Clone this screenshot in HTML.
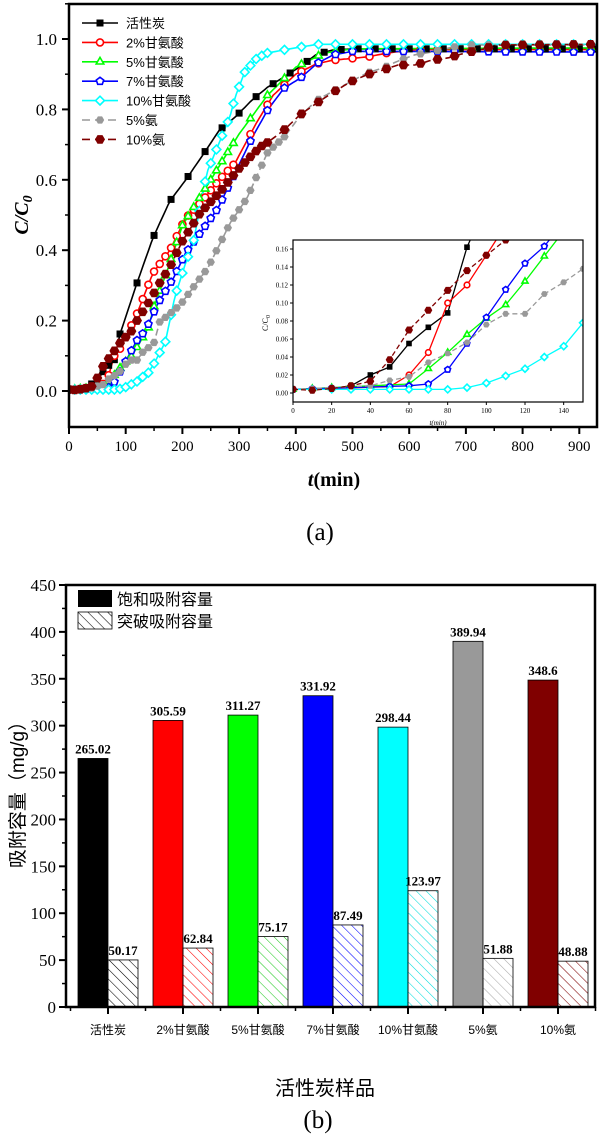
<!DOCTYPE html>
<html><head><meta charset="utf-8">
<style>
html,body{margin:0;padding:0;background:#fff;}
svg{display:block;}
.s{font-family:"Liberation Serif",serif;}
.c{font-family:"Liberation Sans","Noto Sans CJK SC",sans-serif;}
</style></head>
<body>
<svg id="g" width="600" height="1138" viewBox="0 0 600 1138" xmlns="http://www.w3.org/2000/svg">
<defs>
<clipPath id="cm"><rect x="69" y="4" width="528" height="423"/></clipPath>
<clipPath id="ci"><rect x="293" y="240" width="290" height="162"/></clipPath>
</defs>
<rect width="600" height="1138" fill="#fff"/>
<g id="gtop"></g>
<g id="gbot"></g>
</svg>
<script>
(function(){
var NS="http://www.w3.org/2000/svg";
function el(p,t,a,txt){var e=document.createElementNS(NS,t);for(var k in a)e.setAttribute(k,a[k]);if(txt!==undefined)e.textContent=txt;p.appendChild(e);return e;}
var gtop=document.getElementById('gtop'),gbot=document.getElementById('gbot');
function interp(pts,t){if(t<=pts[0][0])return pts[0][1];for(var i=1;i<pts.length;i++){if(t<=pts[i][0]){var a=pts[i-1],b=pts[i];return a[1]+(b[1]-a[1])*(t-a[0])/(b[0]-a[0]);}}return pts[pts.length-1][1];}
function marker(p,type,x,y,col,s){
 var fill=(type=='sq'||type=='hex')?col:'#fff';var sw=1.6;
 if(type=='sq')el(p,'rect',{x:x-s,y:y-s,width:2*s,height:2*s,fill:col});
 else if(type=='ci')el(p,'circle',{cx:x,cy:y,r:s,fill:'#fff',stroke:col,'stroke-width':sw});
 else{var n,r=s,off;
  if(type=='tri'){n=3;off=-90;r=s*1.25;}else if(type=='pent'){n=5;off=-90;r=s*1.1;}else if(type=='dia'){n=4;off=-90;r=s*1.25;}else{n=6;off=0;}
  var pp=[];for(var i=0;i<n;i++){var a=(off+i*360/n)*Math.PI/180;pp.push((x+r*Math.cos(a)).toFixed(1)+','+(y+r*Math.sin(a)).toFixed(1));}
  el(p,'polygon',{points:pp.join(' '),fill:fill,stroke:type=='hex'?'none':col,'stroke-width':sw});}
}
var S=[
 {col:'#000',m:'sq',s:3.5,dash:null,dense:90,name:'活性炭',pts:[[0,.004],[20,.005],[30,.008],[40,.02],[50,.029],[60,.055],[70,.073],[80,.089],[90,.162],[120,.307],[148,.435],[178,.54],[206,.6],[235,.668],[265,.741],[293,.778],[323,.827],[351,.864],[379,.892],[409,.923],[437,.957],[466,.969],[500,.972],[940,.972]]},
 {col:'#f00',m:'ci',s:3.5,dash:null,dense:290,name:'2%甘氨酸',pts:[[0,.004],[50,.007],[60,.02],[70,.045],[80,.1],[90,.12],[100,.153],[120,.22],[148,.335],[178,.4],[205,.49],[235,.54],[265,.6],[293,.648],[330,.76],[360,.84],[400,.9],[437,.93],[466,.94],[500,.945],[530,.95],[560,.96],[590,.966],[620,.97],[940,.97]]},
 {col:'#0f0',m:'tri',s:3.5,dash:null,dense:290,name:'5%甘氨酸',pts:[[0,.004],[60,.01],[70,.027],[80,.045],[90,.065],[100,.083],[110,.098],[120,.124],[130,.152],[140,.18],[150,.24],[175,.35],[200,.47],[250,.6],[300,.73],[350,.84],[400,.92],[450,.96],[500,.972],[940,.975]]},
 {col:'#00f',m:'pent',s:3.5,dash:null,dense:290,name:'7%甘氨酸',pts:[[0,.004],[60,.008],[70,.01],[80,.026],[90,.055],[100,.084],[111,.118],[120,.144],[130,.163],[140,.19],[157,.25],[184,.32],[205,.39],[235,.457],[263,.52],[293,.62],[323,.72],[351,.8],[379,.86],[409,.89],[437,.93],[466,.955],[500,.965],[940,.963]]},
 {col:'#0ff',m:'dia',s:3.5,dash:null,dense:350,name:'10%甘氨酸',pts:[[0,.004],[80,.004],[90,.006],[100,.011],[110,.019],[120,.027],[130,.04],[140,.052],[150,.078],[170,.14],[187,.27],[205,.36],[219,.42],[243,.62],[261,.69],[284,.78],[293,.835],[310,.906],[331,.945],[349,.96],[379,.969],[407,.977],[440,.985],[940,.985]]},
 {col:'#999',m:'hex',s:4.2,dash:'7,4',dense:380,name:'5%氨',pts:[[0,.004],[40,.008],[50,.014],[60,.018],[70,.034],[80,.044],[90,.056],[100,.076],[110,.088],[120,.088],[130,.11],[140,.123],[150,.138],[160,.196],[196,.244],[225,.307],[245,.35],[272,.437],[284,.477],[314,.548],[331,.61],[351,.68],[379,.72],[407,.78],[437,.826],[466,.852],[496,.878],[525,.903],[554,.918],[584,.94],[610,.955],[640,.963],[668,.974],[698,.983],[940,.983]]},
 {col:'#800000',m:'hex',s:5,dash:'7,4',dense:350,name:'10%氨',pts:[[0,.004],[10,.003],[20,.005],[30,.008],[40,.013],[50,.037],[60,.07],[70,.092],[80,.114],[90,.136],[100,.153],[110,.17],[120,.2],[140,.25],[160,.307],[178,.352],[199,.423],[231,.505],[266,.565],[302,.636],[337,.693],[351,.707],[379,.741],[407,.784],[437,.818],[466,.849],[496,.878],[525,.898],[554,.912],[580,.926],[610,.926],[640,.94],[668,.946],[698,.96],[725,.969],[755,.983],[940,.985]]}
];
function X(t){return 69+0.567*t;} function Y(c){return 391-352*c;}
var gm=el(gtop,'g',{'clip-path':'url(#cm)'});
S.forEach(function(s){
 var d=[];for(var t=0;t<=940;t+=5)d.push(X(t).toFixed(1)+','+Y(interp(s.pts,t)).toFixed(1));
 var a={points:d.join(' '),fill:'none',stroke:s.col,'stroke-width':1.6};if(s.dash)a['stroke-dasharray']=s.dash;
 el(gm,'polyline',a);
});
S.forEach(function(s){
 var ts=[];for(var t=0;t<=s.dense;t+=10)ts.push(t);var last=ts[ts.length-1];for(var t=last+30;t<=935;t+=30)ts.push(t);
 ts.forEach(function(t){marker(gm,s.m,X(t),Y(interp(s.pts,t)),s.col,s.s);});
});
el(gtop,'rect',{x:69,y:4,width:528,height:423,fill:'none',stroke:'#000','stroke-width':2.5});
for(var t=0;t<=900;t+=100){el(gtop,'line',{x1:X(t),y1:427,x2:X(t),y2:434,stroke:'#000','stroke-width':2});
 el(gtop,'text',{x:X(t),y:451,'text-anchor':'middle','font-size':15,class:'s'},t);}
for(var t=50;t<=900;t+=100)el(gtop,'line',{x1:X(t),y1:427,x2:X(t),y2:431,stroke:'#000','stroke-width':1.5});
for(var i=0;i<=5;i++){var c=i*0.2;el(gtop,'line',{x1:62,y1:Y(c),x2:69,y2:Y(c),stroke:'#000','stroke-width':2});
 el(gtop,'text',{x:57,y:Y(c)+6,'text-anchor':'end','font-size':17,class:'s'},c.toFixed(1));}
for(var i=0;i<6;i++){var c=0.1+i*0.2;el(gtop,'line',{x1:65,y1:Y(c),x2:69,y2:Y(c),stroke:'#000','stroke-width':1.5});}
var yl=el(gtop,'text',{transform:'translate(28,215) rotate(-90)','text-anchor':'middle','font-size':20,'font-weight':'bold','font-style':'italic',class:'s'});
el(yl,'tspan',{},'C/C');el(yl,'tspan',{'font-size':14,dy:4},'0');
var xl=el(gtop,'text',{x:334,y:486,'text-anchor':'middle','font-size':20,'font-weight':'bold',class:'s'});
el(xl,'tspan',{'font-style':'italic'},'t');el(xl,'tspan',{},'(min)');
el(gtop,'text',{x:320,y:540,'text-anchor':'middle','font-size':25,class:'s'},'(a)');
S.forEach(function(s,i){var y=23+19.4*i;var a={x1:82,y1:y,x2:118,y2:y,stroke:s.col,'stroke-width':1.6};if(s.dash)a['stroke-dasharray']='8,5';
 el(gtop,'line',a);marker(gtop,s.m,100,y,s.col,s.s);
 el(gtop,'text',{x:126,y:y+5,'font-size':13,class:'c'},s.name);});
function XI(t){return 293+290*t/150;} function YI(c){return 393-900*c;}
el(gtop,'rect',{x:293,y:240,width:290,height:162,fill:'#fff'});
var gi=el(gtop,'g',{'clip-path':'url(#ci)'});
S.forEach(function(s){var d=[],ts=[];for(var t=0;t<=150;t+=10)ts.push(t);
 ts.forEach(function(t){d.push(XI(t).toFixed(1)+','+YI(interp(s.pts,t)).toFixed(1));});
 var a={points:d.join(' '),fill:'none',stroke:s.col,'stroke-width':1.3};if(s.dash)a['stroke-dasharray']='5,3';
 el(gi,'polyline',a);
 ts.forEach(function(t){marker(gi,s.m,XI(t),YI(interp(s.pts,t)),s.col,s.s*0.8);});});
el(gtop,'rect',{x:293,y:240,width:290,height:162,fill:'none',stroke:'#000','stroke-width':1.2});
for(var t=0;t<=140;t+=20){el(gtop,'line',{x1:XI(t),y1:402,x2:XI(t),y2:405,stroke:'#000','stroke-width':1});
 el(gtop,'text',{x:XI(t),y:413,'text-anchor':'middle','font-size':7,class:'s'},t);}
for(var i=0;i<=8;i++){var c=i*0.02;el(gtop,'line',{x1:290,y1:YI(c),x2:293,y2:YI(c),stroke:'#000','stroke-width':1});
 el(gtop,'text',{x:288,y:YI(c)+2.5,'text-anchor':'end','font-size':7,class:'s'},c.toFixed(2));}
var il=el(gtop,'text',{transform:'translate(268,323) rotate(-90)','text-anchor':'middle','font-size':8,class:'s'});
el(il,'tspan',{},'C/C');el(il,'tspan',{'font-size':6,dy:2},'0');
el(gtop,'text',{x:438,y:425,'text-anchor':'middle','font-size':7,'font-style':'italic',class:'s'},'t(min)');
function YB(v){return 1007-0.9378*v;}
var defs=document.querySelector('defs');
var cols=['#000','#f00','#0f0','#00f','#0ff','#999','#800000'];
var names=['活性炭','2%甘氨酸','5%甘氨酸','7%甘氨酸','10%甘氨酸','5%氨','10%氨'];
var sat=[265.02,305.59,311.27,331.92,298.44,389.94,348.6];
var brk=[50.17,62.84,75.17,87.49,123.97,51.88,48.88];
var hcol=['#000','#f00','#2c2','#00f','#0dd','#aaa','#800000'];
hcol.forEach(function(c,i){var p=el(defs,'pattern',{id:'h'+i,patternUnits:'userSpaceOnUse',width:7,height:7,patternTransform:'rotate(-45)'});
 el(p,'line',{x1:0,y1:0,x2:0,y2:7,stroke:c,'stroke-width':1.1});});
for(var i=0;i<7;i++){var cx=108+75*i;
 el(gbot,'rect',{x:cx-30,y:YB(sat[i]),width:30,height:1007-YB(sat[i]),fill:cols[i],stroke:'#000','stroke-width':0.8});
 el(gbot,'rect',{x:cx,y:YB(brk[i]),width:30,height:1007-YB(brk[i]),fill:'url(#h'+i+')',stroke:'#000','stroke-width':0.8});
 el(gbot,'text',{x:cx-15,y:YB(sat[i])-5,'text-anchor':'middle','font-size':13,'font-weight':'bold',class:'s'},String(sat[i]));
 el(gbot,'text',{x:cx+15,y:YB(brk[i])-5,'text-anchor':'middle','font-size':13,'font-weight':'bold',class:'s'},String(brk[i]));
 el(gbot,'line',{x1:cx,y1:1007,x2:cx,y2:1014,stroke:'#000','stroke-width':2});
 el(gbot,'line',{x1:cx+37.5,y1:1007,x2:cx+37.5,y2:1011,stroke:'#000','stroke-width':1.5});
 el(gbot,'text',{x:cx,y:1034,'text-anchor':'middle','font-size':12,class:'c'},names[i]);}
el(gbot,'line',{x1:70.5,y1:1007,x2:70.5,y2:1011,stroke:'#000','stroke-width':1.5});
el(gbot,'rect',{x:66,y:585,width:529,height:422,fill:'none',stroke:'#000','stroke-width':2.5});
for(var v=0;v<=450;v+=50){el(gbot,'line',{x1:59,y1:YB(v),x2:66,y2:YB(v),stroke:'#000','stroke-width':2});
 el(gbot,'text',{x:56,y:YB(v)+6,'text-anchor':'end','font-size':17,class:'s'},v);}
for(var v=25;v<450;v+=50)el(gbot,'line',{x1:62,y1:YB(v),x2:66,y2:YB(v),stroke:'#000','stroke-width':1.5});
el(gbot,'text',{transform:'translate(24,790) rotate(-90)','text-anchor':'middle','font-size':19,class:'c'},'吸附容量（mg/g）');
el(gbot,'text',{x:325,y:1095,'text-anchor':'middle','font-size':20,class:'c'},'活性炭样品');
el(gbot,'text',{x:318,y:1128,'text-anchor':'middle','font-size':25,class:'s'},'(b)');
el(gbot,'rect',{x:78,y:590,width:34,height:17,fill:'#000'});
el(gbot,'text',{x:117,y:605,'font-size':16,class:'c'},'饱和吸附容量');
el(gbot,'rect',{x:78,y:612,width:34,height:17,fill:'url(#h0)',stroke:'#000','stroke-width':0.8});
el(gbot,'text',{x:117,y:627,'font-size':16,class:'c'},'突破吸附容量');
})();
</script>
</body></html>
